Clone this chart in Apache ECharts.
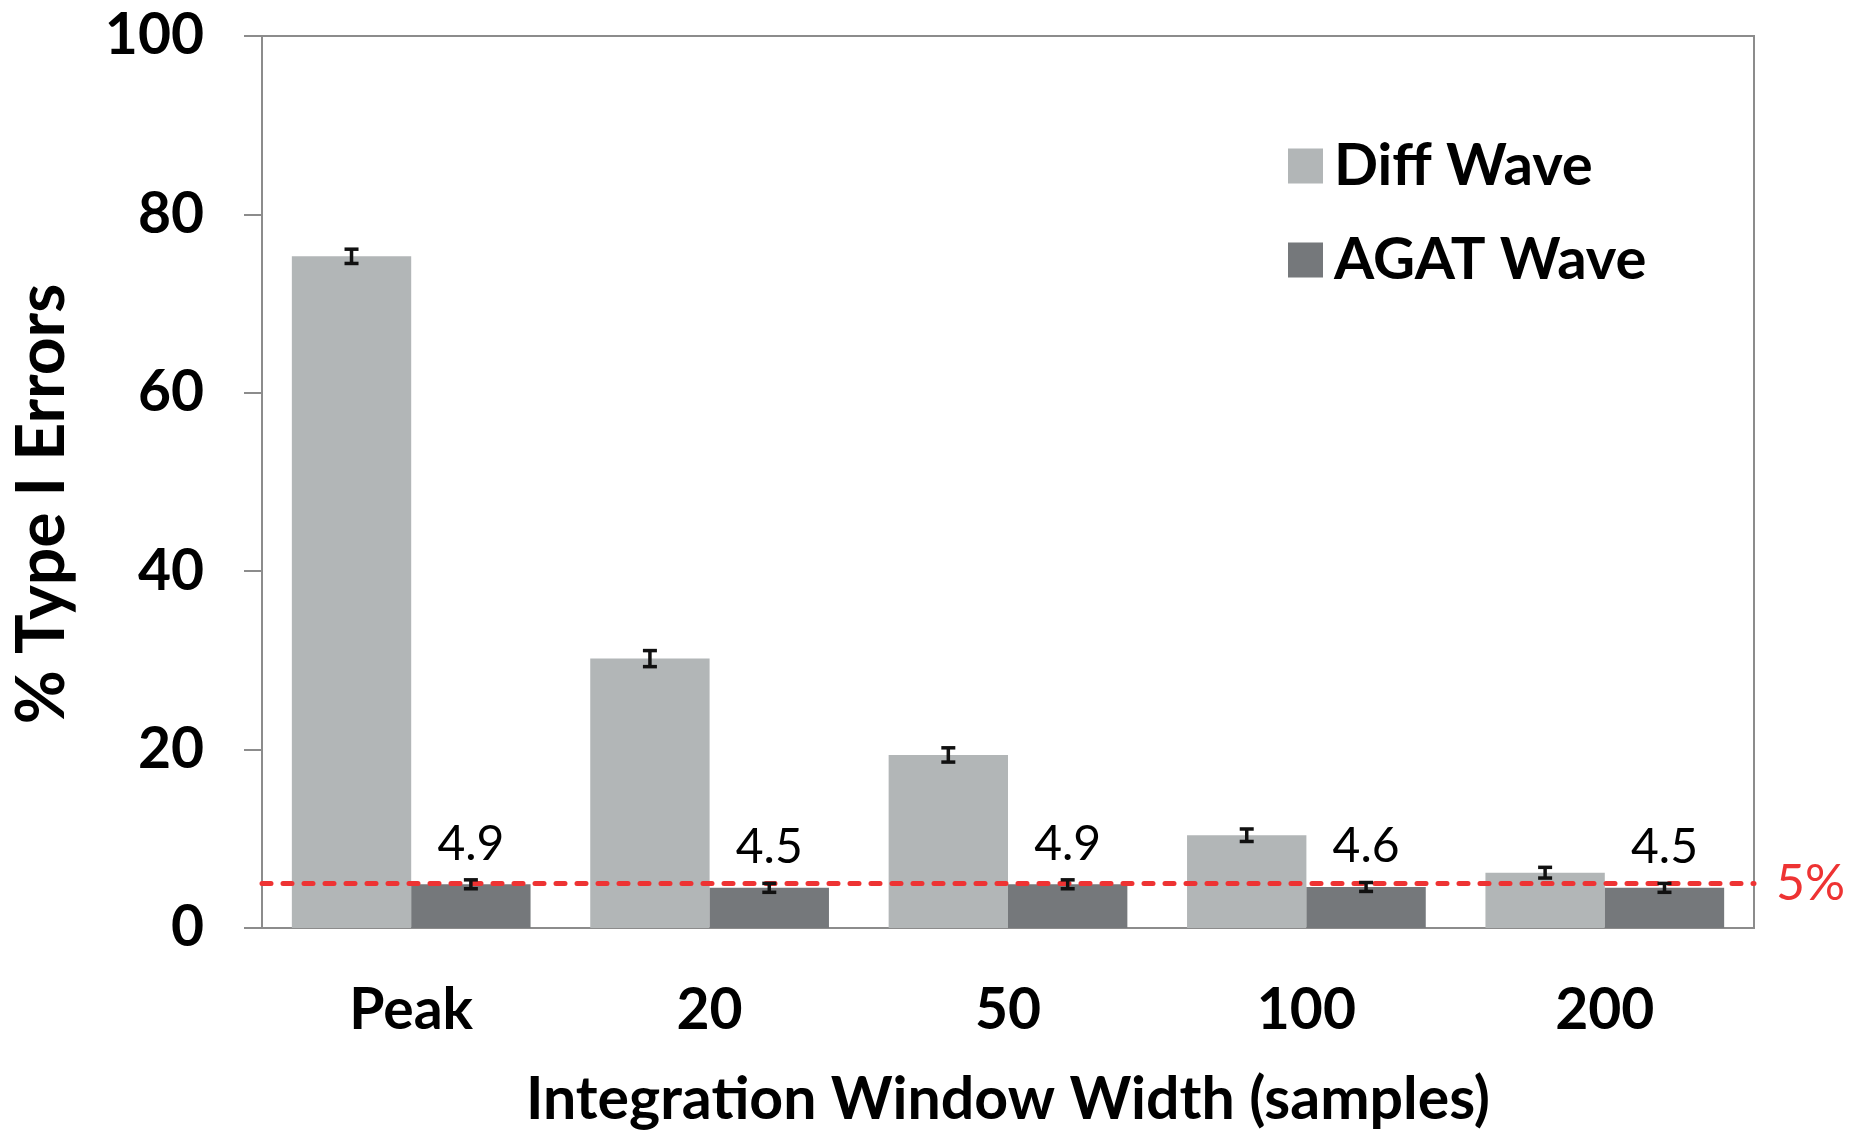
<!DOCTYPE html>
<html>
<head>
<meta charset="utf-8">
<script src="https://cdn.jsdelivr.net/npm/echarts@6/dist/echarts.min.js"></script>
<style>
  html, body { margin: 0; padding: 0; background: #fff; }
  #chart { width: 1866px; height: 1134px; }
</style>
</head>
<body>
<div id="chart"></div>
<script>
// data
const categories = ['Peak', '20', '50', '100', '200'];
const diffWave = [75.3, 30.2, 19.4, 10.4, 6.2];
const diffErr = [0.8, 0.9, 0.8, 0.7, 0.6];
const agatWave = [4.9, 4.5, 4.9, 4.6, 4.5];
const agatErr = [0.5, 0.5, 0.5, 0.5, 0.5];
const yTicks = [0, 20, 40, 60, 80, 100];
const alphaLevel = 5;

const FONT = 'Lato';
const axisColor = '#8c8c8c';

// error bar drawn on top of a grouped bar; side = -1 (left bar) or +1 (right bar)
function errorBars(values, errs, side) {
  return {
    type: 'custom',
    z: 10,
    silent: true,
    data: values.map((v, i) => [i, v, errs[i]]),
    renderItem: function (params, api) {
      const band = api.size([1, 0])[0];
      const x = api.coord([api.value(0), 0])[0] + side * band * 0.2;
      const yHi = api.coord([api.value(0), api.value(1) + api.value(2)])[1];
      const yLo = api.coord([api.value(0), api.value(1) - api.value(2)])[1];
      const cap = 7;
      const style = { stroke: '#111', lineWidth: 3.5 };
      return {
        type: 'group',
        children: [
          { type: 'line', shape: { x1: x, y1: yHi, x2: x, y2: yLo }, style: style },
          { type: 'line', shape: { x1: x - cap, y1: yHi, x2: x + cap, y2: yHi }, style: style },
          { type: 'line', shape: { x1: x - cap, y1: yLo, x2: x + cap, y2: yLo }, style: style }
        ]
      };
    }
  };
}

const myChart = echarts.init(document.getElementById('chart'));

const option = {
  animation: false,
  grid: {
    left: 262, right: 112, top: 36, bottom: 205,
    show: true, borderColor: axisColor, borderWidth: 2, backgroundColor: 'transparent'
  },
  legend: {
    orient: 'vertical',
    left: 1283, top: 132,
    icon: 'rect',
    itemWidth: 35, itemHeight: 35, itemGap: 36,
    data: ['Diff Wave', 'AGAT Wave'],
    textStyle: { fontFamily: FONT, fontWeight: 'bold', fontSize: 58, color: '#000', padding: [0, 0, 0, 6] }
  },
  xAxis: {
    type: 'category',
    data: categories,
    name: 'Integration Window Width (samples)',
    nameLocation: 'middle',
    nameGap: 142,
    nameTextStyle: { fontFamily: FONT, fontWeight: 'bold', fontSize: 59, color: '#000' },
    axisLine: { lineStyle: { color: axisColor, width: 2 } },
    axisTick: { length: 20, lineStyle: { color: axisColor, width: 2 } },
    axisLabel: { margin: 54, fontFamily: FONT, fontWeight: 'bold', fontSize: 57, color: '#000' }
  },
  yAxis: {
    type: 'value',
    min: yTicks[0], max: yTicks[yTicks.length - 1], interval: 20,
    name: '% Type I Errors',
    nameLocation: 'middle',
    nameGap: 186,
    nameTextStyle: { fontFamily: FONT, fontWeight: 'bold', fontSize: 66, color: '#000', padding: [0, 44, 0, 0] },
    axisLine: { show: true, lineStyle: { color: axisColor, width: 2 } },
    axisTick: { show: true, length: 18, lineStyle: { color: axisColor, width: 2 } },
    splitLine: { show: false },
    axisLabel: { margin: 58, fontFamily: FONT, fontWeight: 'bold', fontSize: 57, color: '#000' }
  },
  series: [
    {
      name: 'Diff Wave',
      type: 'bar',
      data: diffWave,
      barGap: '0%',
      barCategoryGap: '20%',
      itemStyle: { color: '#b2b6b7' }
    },
    {
      name: 'AGAT Wave',
      type: 'bar',
      data: agatWave,
      barGap: '0%',
      barCategoryGap: '20%',
      itemStyle: { color: '#75787b' },
      label: {
        show: true, position: 'top', distance: 16,
        fontFamily: FONT, fontSize: 48, color: '#000'
      },
      markLine: {
        silent: true,
        symbol: 'none',
        data: [{ yAxis: alphaLevel }],
        lineStyle: { color: '#ee3333', width: 5, type: [9, 12], cap: 'round' },
        label: {
          show: true, position: 'end', distance: 22,
          formatter: alphaLevel + '%',
          fontFamily: FONT, fontSize: 50, color: '#ee3333'
        }
      }
    },
    errorBars(diffWave, diffErr, -1),
    errorBars(agatWave, agatErr, 1)
  ]
};

myChart.setOption(option);
</script>
</body>
</html>
